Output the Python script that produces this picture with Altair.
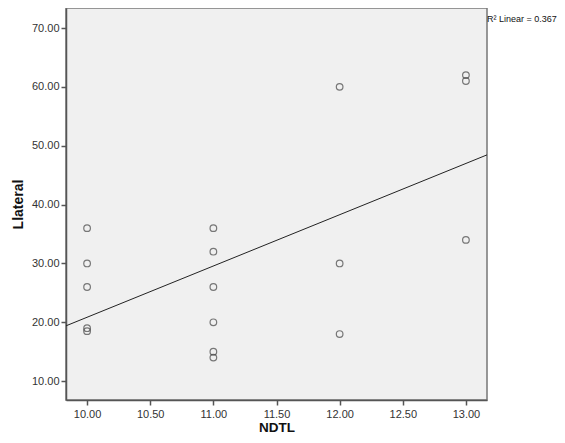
import altair as alt
import pandas as pd

ndtl = [10, 10, 10, 10, 10, 11, 11, 11, 11, 11, 11, 12, 12, 12, 13, 13, 13]
llateral = [36, 30, 26, 19, 18.5, 36, 32, 26, 20, 15, 14, 60, 30, 18, 62, 61, 34]
x_ticks = [10.0, 10.5, 11.0, 11.5, 12.0, 12.5, 13.0]
y_ticks = [10, 20, 30, 40, 50, 60, 70]
r2_label = ["R² Linear = 0.367"]

df = pd.DataFrame({"NDTL": ndtl, "Llateral": llateral})
xdom = [9.833, 13.167]
ydom = [6.8, 73.4]

xs = alt.Scale(domain=xdom, nice=False, zero=False)
ys = alt.Scale(domain=ydom, nice=False, zero=False)

xaxis = alt.Axis(values=x_ticks, format=".2f", grid=False, title="NDTL",
                 tickSize=5, labelPadding=3, titlePadding=1, titleFontSize=13.5)
yaxis = alt.Axis(values=y_ticks, format=".2f", grid=False, title="Llateral",
                 tickSize=5, labelPadding=2, titlePadding=6)

pts = alt.Chart(df).mark_point(shape="circle", filled=False, size=44,
                               stroke="#444", strokeWidth=1.2, clip=True).encode(
    x=alt.X("NDTL:Q", scale=xs, axis=xaxis),
    y=alt.Y("Llateral:Q", scale=ys, axis=yaxis),
)

line = alt.Chart(df).transform_regression(
    "NDTL", "Llateral", extent=xdom
).mark_line(color="#222", strokeWidth=1, clip=True).encode(
    x=alt.X("NDTL:Q", scale=xs),
    y=alt.Y("Llateral:Q", scale=ys),
)

txt = alt.Chart(pd.DataFrame({"t": r2_label})).mark_text(
    align="left", baseline="middle", fontSize=9, font="Liberation Sans",
    color="#111"
).encode(x=alt.value(421), y=alt.value(11), text="t:N")

chart = alt.layer(line, pts, txt).properties(
    width=421, height=392,
    background="white",
    autosize=alt.AutoSizeParams(type="none"),
    padding={"left": 58, "top": 0, "right": 70, "bottom": 35},
).configure_view(
    fill="#f0f0f0", stroke="#777", strokeWidth=1.5
).configure_axis(
    labelFont="Liberation Sans", labelFontSize=11, labelColor="#333",
    titleFont="Liberation Sans", titleFontSize=14, titleFontWeight="bold",
    titleColor="#111", domainColor="#555", domainWidth=1.5,
    tickColor="#555", tickWidth=1.5
)

chart.save("out.html", embed_options={"renderer": "svg", "actions": False})
